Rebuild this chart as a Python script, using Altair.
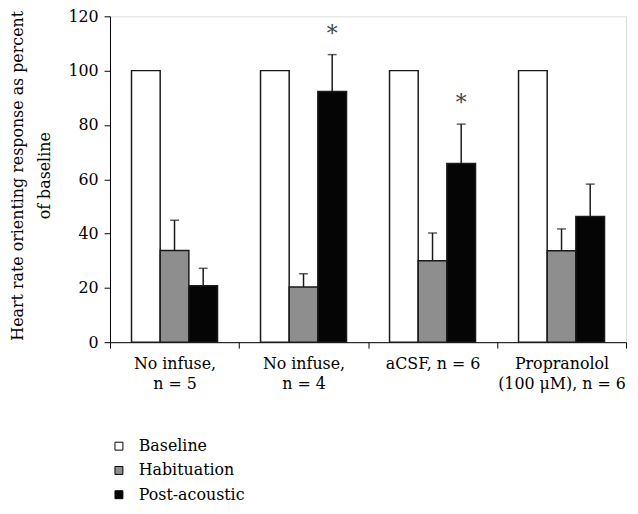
import json
import altair as alt
import pandas as pd

# ---- data ----
groups = ["No infuse, n = 5", "No infuse, n = 4", "aCSF, n = 6", "Propranolol (100 μM), n = 6"]
group_lines = [["No infuse,", "n = 5"], ["No infuse,", "n = 4"], ["aCSF, n = 6"], ["Propranolol", "(100 μM), n = 6"]]
series = ["Baseline", "Habituation", "Post-acoustic"]
series_colors = ["#ffffff", "#8e8e8e", "#050505"]

baseline = [100, 100, 100, 100]
habituation = [33.8, 20.3, 30.0, 33.7]
habituation_err = [11.1, 4.9, 10.2, 8.0]
post_acoustic = [20.8, 92.3, 65.8, 46.3]
post_acoustic_err = [6.4, 13.6, 14.5, 11.9]
post_marks = ["", "*", "*", ""]

rows = []
for i, g in enumerate(groups):
    rows.append({"group": g, "series": "Baseline", "value": baseline[i], "top": None, "mark": ""})
    rows.append({"group": g, "series": "Habituation", "value": habituation[i],
                 "top": habituation[i] + habituation_err[i], "mark": ""})
    rows.append({"group": g, "series": "Post-acoustic", "value": post_acoustic[i],
                 "top": post_acoustic[i] + post_acoustic_err[i], "mark": post_marks[i]})
df = pd.DataFrame(rows)

FONT = "DejaVu Serif"
label_map = json.dumps(dict(zip(groups, group_lines)), ensure_ascii=False)

x_enc = alt.X("group:N", sort=groups,
              scale=alt.Scale(paddingInner=0, paddingOuter=0),
              axis=alt.Axis(title=None, labelAngle=0, tickBand="extent", tickSize=6,
                            labelPadding=8, labelBaseline="top", labelLineHeight=20,
                            labelExpr=label_map + "[datum.label]", labelFont=FONT,
                            labelFontSize=16, labelColor="black", domainColor="black",
                            tickColor="black", labelLimit=300))
xo_enc = alt.XOffset("series:N", sort=series,
                     scale=alt.Scale(domain=series, paddingInner=0, paddingOuter=0.75))
y_scale = alt.Scale(domain=[0, 120], nice=False)

base = alt.Chart(df)

bars = base.mark_bar(stroke="#1a1a1a", strokeWidth=1.5).encode(
    x=x_enc,
    xOffset=xo_enc,
    y=alt.Y("value:Q", scale=y_scale,
            axis=alt.Axis(values=[0, 20, 40, 60, 80, 100, 120], grid=False, tickSize=6,
                          labelPadding=6, labelFont=FONT, labelFontSize=16, labelColor="black",
                          domainColor="black", tickColor="black",
                          title=["Heart rate orienting response as percent", "of baseline"],
                          titleFont=FONT, titleFontSize=16, titleFontWeight="normal",
                          titleColor="black", titleAngle=270, titleAlign="center",
                          titleBaseline="top", titleX=-101, titleY=160.5,
                          titleLineHeight=27)),
    fill=alt.Fill("series:N", sort=series,
                  scale=alt.Scale(domain=series, range=series_colors),
                  legend=alt.Legend(orient="none", legendX=1, legendY=426, title=None,
                                    symbolType="square", symbolSize=64,
                                    symbolStrokeColor="black", symbolStrokeWidth=1,
                                    labelFont=FONT, labelFontSize=16, labelColor="black",
                                    labelOffset=12, rowPadding=8.5, padding=0)),
)

err = base.transform_filter("isValid(datum.top)").mark_rule(color="#1a1a1a", strokeWidth=1.5).encode(
    x=alt.X("group:N", sort=groups),
    xOffset=alt.XOffset("series:N", sort=series),
    y=alt.Y("value:Q"),
    y2="top:Q",
)

caps = base.transform_filter("isValid(datum.top)").mark_tick(
    color="#1a1a1a", thickness=1.5, size=9, orient="horizontal").encode(
    x=alt.X("group:N", sort=groups),
    xOffset=alt.XOffset("series:N", sort=series),
    y=alt.Y("top:Q"),
)

stars = base.transform_filter("datum.mark != ''").mark_text(
    font=FONT, fontSize=22, color="#444444", baseline="alphabetic", dy=-14).encode(
    x=alt.X("group:N", sort=groups),
    xOffset=alt.XOffset("series:N", sort=series),
    y=alt.Y("top:Q"),
    text="mark:N",
)

chart = alt.layer(bars, err, caps, stars).properties(
    width=521, height=329,
    autosize=alt.AutoSizeParams(type="none"),
    padding={"left": 103, "top": 6, "right": 4, "bottom": 163},
).configure_view(stroke="black", strokeWidth=1.2).configure(background="white")

chart.save("out.html", embed_options={"renderer": "svg", "actions": False})
